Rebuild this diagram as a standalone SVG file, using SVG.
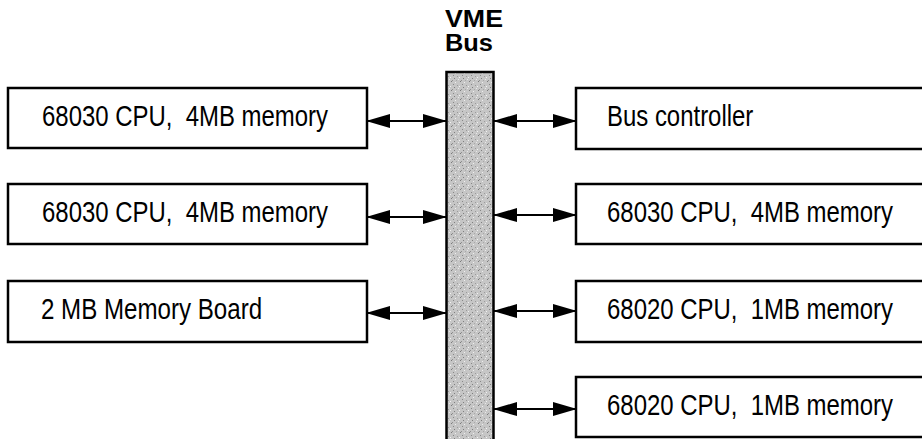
<svg xmlns="http://www.w3.org/2000/svg" width="922" height="439" viewBox="0 0 922 439">
<style>
.box{fill:#fff;stroke:#000;stroke-width:2.5}
.lbl{font-family:"Liberation Sans",Arial,sans-serif;font-size:29px;fill:#000}
.bus{font-family:"Liberation Sans",Arial,sans-serif;font-size:23.5px;font-weight:bold;fill:#000}
.conn{stroke:#000;stroke-width:2.2;fill:none;marker-start:url(#ah);marker-end:url(#ah)}
</style>
<defs>
<marker id="ah" viewBox="0 0 24 14" refX="23" refY="7" markerWidth="24" markerHeight="14" markerUnits="userSpaceOnUse" orient="auto-start-reverse">
<path d="M0,0 L24,7 L0,14 Z" fill="#000"/>
</marker>
<pattern id="stip" width="9" height="9" patternUnits="userSpaceOnUse">
<rect width="9" height="9" fill="#c6c6c6"/>
<rect x="1" y="0" width="1" height="1" fill="#7a7a7a"/>
<rect x="5" y="1" width="1" height="1" fill="#eeeeee"/>
<rect x="3" y="3" width="1" height="1" fill="#888888"/>
<rect x="7" y="4" width="1" height="1" fill="#9a9a9a"/>
<rect x="0" y="5" width="1" height="1" fill="#f2f2f2"/>
<rect x="4" y="6" width="1" height="1" fill="#7f7f7f"/>
<rect x="8" y="7" width="1" height="1" fill="#e8e8e8"/>
<rect x="2" y="8" width="1" height="1" fill="#909090"/>
<rect x="6" y="8" width="1" height="1" fill="#a8a8a8"/>
</pattern>
</defs>
<rect width="922" height="439" fill="#fff"/>

<g id="vme-bus">
<rect x="446.5" y="72" width="47" height="372" fill="url(#stip)" stroke="#000" stroke-width="2.5"/>
<text class="bus" x="445" y="27" textLength="58" lengthAdjust="spacingAndGlyphs">VME</text>
<text class="bus" x="445" y="51" textLength="48" lengthAdjust="spacingAndGlyphs">Bus</text>
</g>

<g id="node-l1">
<rect class="box" x="8" y="88" width="359" height="60"/>
<text class="lbl" transform="matrix(0.826,0,0,1,42,126)">68030 CPU,&#160; 4MB memory</text>
</g>
<g id="node-l2">
<rect class="box" x="8" y="184" width="359" height="60"/>
<text class="lbl" transform="matrix(0.826,0,0,1,42,222)">68030 CPU,&#160; 4MB memory</text>
</g>
<g id="node-l3">
<rect class="box" x="8" y="281" width="359" height="61"/>
<text class="lbl" transform="matrix(0.832,0,0,1,41,319)">2 MB Memory Board</text>
</g>

<g id="node-r1">
<rect class="box" x="576" y="88" width="360" height="61"/>
<text class="lbl" transform="matrix(0.826,0,0,1,607,126)">Bus controller</text>
</g>
<g id="node-r2">
<rect class="box" x="576" y="184" width="360" height="60"/>
<text class="lbl" transform="matrix(0.826,0,0,1,607,222)">68030 CPU,&#160; 4MB memory</text>
</g>
<g id="node-r3">
<rect class="box" x="576" y="281" width="360" height="61"/>
<text class="lbl" transform="matrix(0.826,0,0,1,607,319)">68020 CPU,&#160; 1MB memory</text>
</g>
<g id="node-r4">
<rect class="box" x="576" y="377" width="360" height="60"/>
<text class="lbl" transform="matrix(0.826,0,0,1,607,415)">68020 CPU,&#160; 1MB memory</text>
</g>

<g id="connectors">
<line class="conn" x1="367" y1="121" x2="446" y2="121"/>
<line class="conn" x1="367" y1="217" x2="446" y2="217"/>
<line class="conn" x1="367" y1="313" x2="446" y2="313"/>
<line class="conn" x1="494" y1="121" x2="576" y2="121"/>
<line class="conn" x1="494" y1="215" x2="576" y2="215"/>
<line class="conn" x1="494" y1="311" x2="576" y2="311"/>
<line class="conn" x1="494" y1="409" x2="576" y2="409"/>
</g>
</svg>
